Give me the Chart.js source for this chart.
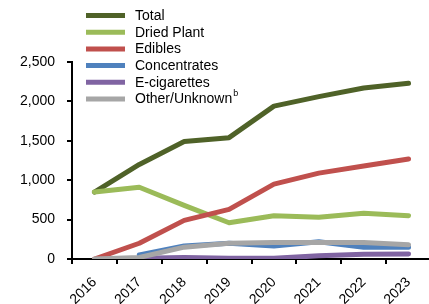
<!DOCTYPE html>
<html>
<head>
<meta charset="utf-8">
<script src="https://cdn.jsdelivr.net/npm/chart.js@4"></script>
<style>
  html, body { margin: 0; padding: 0; background: #fff; overflow: hidden; }
  #wrap { width: 429px; height: 304px; overflow: hidden; }
</style>
</head>
<body>
<div id="wrap"><canvas id="chart" width="432" height="304"></canvas></div>
<script>
var years = ["2016", "2017", "2018", "2019", "2020", "2021", "2022", "2023"];
var total = [850, 1200, 1490, 1540, 1940, 2060, 2170, 2230];
var driedPlant = [850, 910, 680, 460, 550, 530, 580, 550];
var edibles = [0, 200, 490, 630, 950, 1090, 1180, 1270];
var concentrates = [null, 50, 165, 200, 165, 220, 150, 150];
var eCigarettes = [null, 10, 20, 10, 10, 40, 60, 65];
var otherUnknown = [0, 20, 150, 200, 210, 210, 210, 180];
var seriesNames = ["Total", "Dried Plant", "Edibles", "Concentrates", "E-cigarettes", "Other/Unknown"];
var seriesColors = ["#4F6228", "#9BBB59", "#C0504D", "#4F81BD", "#8064A2", "#A6A6A6"];
var yTicks = [0, 500, 1000, 1500, 2000, 2500];

var seriesData = [total, driedPlant, edibles, concentrates, eCigarettes, otherUnknown];
var font = "Arial, 'Liberation Sans', sans-serif";

function makeDataSets() {
  return seriesData.map(function (d, i) {
    return {
      label: seriesNames[i],
      data: d,
      borderColor: seriesColors[i],
      backgroundColor: seriesColors[i],
      borderWidth: 5,
      borderCapStyle: "round",
      borderJoinStyle: "round",
      pointRadius: 0,
      tension: 0,
      order: seriesData.length - i
    };
  });
}

// legend drawn by hand, stacked in one column like the original
var sideLegend = {
  id: "sideLegend",
  afterDraw: function (chart) {
    var c = chart.ctx;
    c.save();
    chart.data.datasets.forEach(function (ds, i) {
      var y = 15.5 + i * 16.7;
      c.strokeStyle = ds.borderColor;
      c.lineWidth = 5;
      c.beginPath();
      c.moveTo(86, y);
      c.lineTo(125, y);
      c.stroke();
      c.fillStyle = "#000";
      c.font = "14px " + font;
      c.textBaseline = "middle";
      c.textAlign = "left";
      c.fillText(ds.label, 135, y + 0.5);
      if (ds.label === "Other/Unknown") {
        var w = c.measureText(ds.label).width;
        c.font = "9px " + font;
        c.fillText("b", 135 + w + 1, y - 5);
      }
    });
    c.restore();
  }
};

var ctx = document.getElementById("chart").getContext("2d");
var chart = new Chart(ctx, {
  type: "line",
  data: { labels: years, datasets: makeDataSets() },
  plugins: [sideLegend],
  options: {
    responsive: false,
    animation: false,
    layout: { padding: { top: 62, right: 1, left: 0, bottom: 0 } },
    plugins: { legend: { display: false }, tooltip: { enabled: false } },
    scales: {
      x: {
        offset: true,
        grid: { offset: true, drawOnChartArea: false, drawTicks: true, tickLength: 5, color: "#000", lineWidth: 2 },
        border: { display: true, color: "#000", width: 2 },
        ticks: { color: "#000", font: { family: font, size: 14 }, minRotation: 45, maxRotation: 45, padding: 10, autoSkip: false },
        afterFit: function (s) { s.height = 45; }
      },
      y: {
        min: 0,
        max: 2500,
        afterBuildTicks: function (s) { s.ticks = yTicks.map(function (v) { return { value: v }; }); },
        grid: { drawOnChartArea: false, drawTicks: true, tickLength: 5, color: "#000", lineWidth: 2 },
        border: { display: true, color: "#000", width: 2 },
        ticks: {
          color: "#000",
          font: { family: font, size: 14 },
          padding: 12,
          callback: function (v) { return v.toLocaleString("en-US"); }
        },
        afterFit: function (s) { s.width = 72; }
      }
    }
  }
});
</script>
</body>
</html>
